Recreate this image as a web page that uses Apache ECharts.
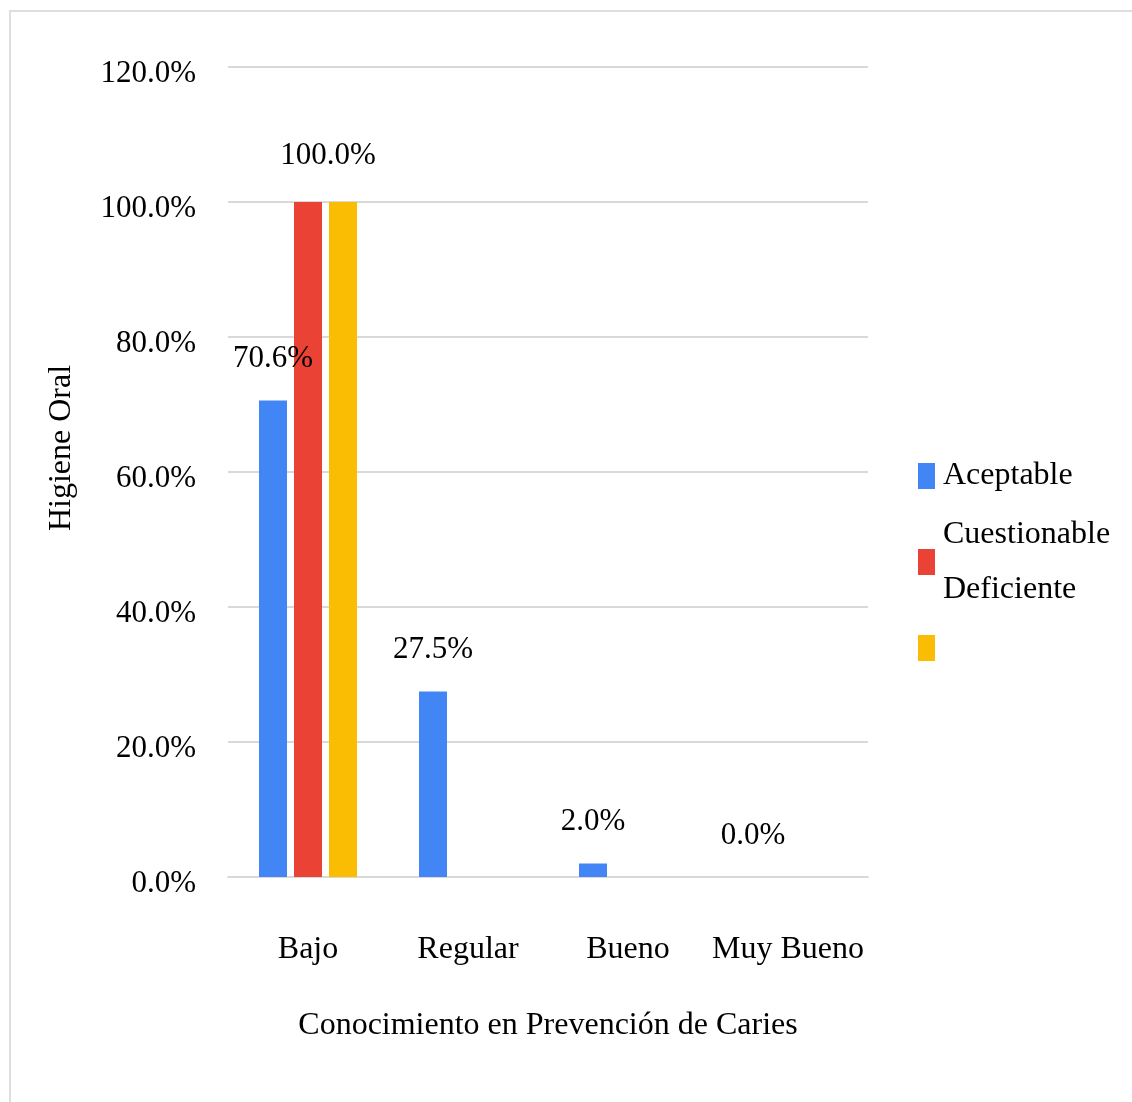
<!DOCTYPE html>
<html>
<head>
<meta charset="utf-8">
<script src="https://cdn.jsdelivr.net/npm/echarts@6/dist/echarts.min.js"></script>
<style>
html,body{margin:0;padding:0;background:#fff;}
#chart{width:1132px;height:1102px;}
</style>
</head>
<body>
<div id="chart"></div>
<script>
const categories = ['Bajo', 'Regular', 'Bueno', 'Muy Bueno'];
const seriesNames = ['Aceptable', 'Cuestionable', 'Deficiente'];
const aceptable = [70.6, 27.5, 2.0, 0.0];
const cuestionable = [100.0, 0, 0, 0];
const deficiente = [100.0, 0, 0, 0];
const yTicks = [0, 20, 40, 60, 80, 100, 120];
const colors = ['#4285f4', '#ea4335', '#fbbc04'];

const FONT = '"Liberation Serif", "Times New Roman", serif';
const fmt = v => v.toFixed(1) + '%';

const chart = echarts.init(document.getElementById('chart'), null, {renderer: 'canvas'});
const option = {
  animation: false,
  backgroundColor: '#fff',
  textStyle: {fontFamily: FONT, color: '#000'},
  grid: {left: 228, right: 264, top: 67, bottom: 225},
  xAxis: {
    type: 'category',
    data: categories,
    name: 'Conocimiento en Prevención de Caries',
    nameLocation: 'middle',
    nameGap: 133,
    nameTextStyle: {fontFamily: FONT, fontSize: 32, color: '#000'},
    axisLine: {lineStyle: {color: '#d9d9d9', width: 2}},
    axisTick: {show: false},
    axisLabel: {interval: 0, margin: 57, fontFamily: FONT, fontSize: 32, color: '#000'}
  },
  yAxis: {
    type: 'value',
    min: yTicks[0],
    max: yTicks[yTicks.length - 1],
    interval: 20,
    axisLine: {show: false},
    axisTick: {show: false},
    splitLine: {lineStyle: {color: '#d9d9d9', width: 2}},
    axisLabel: {margin: 32, verticalAlign: 'top', lineHeight: 14, fontFamily: FONT, fontSize: 31, color: '#000', formatter: v => fmt(v)}
  },
  legend: [
    {
      left: 918, top: 460, orient: 'vertical', padding: 0,
      data: ['Aceptable'],
      itemWidth: 17, itemHeight: 26, icon: 'rect',
      textStyle: {fontFamily: FONT, fontSize: 32, color: '#000', padding: [0, 0, 0, 3]},
      selectedMode: false
    },
    {
      left: 918, top: 507, orient: 'vertical', padding: 0,
      data: ['Cuestionable'],
      itemWidth: 17, itemHeight: 26, icon: 'rect',
      formatter: () => 'Cuestionable\nDeficiente',
      textStyle: {fontFamily: FONT, fontSize: 32, color: '#000', lineHeight: 55, padding: [0, 0, 0, 3]},
      selectedMode: false
    },
    {
      left: 918, top: 635, orient: 'vertical', padding: 0,
      data: ['Deficiente'],
      itemWidth: 17, itemHeight: 26, icon: 'rect',
      formatter: () => '',
      textStyle: {fontFamily: FONT, fontSize: 32, color: '#000'},
      selectedMode: false
    }
  ],
  graphic: [
    {
      type: 'rect', silent: true, z: -1,
      shape: {x: 10, y: 11, width: 1300, height: 1300},
      style: {fill: null, stroke: '#dedede', lineWidth: 2}
    },
    {
      type: 'text', x: 62, y: 448, rotation: Math.PI / 2,
      style: {text: 'Higiene Oral', font: '32px ' + FONT, fill: '#000', align: 'center', verticalAlign: 'middle'}
    }
  ],
  series: [
    {
      name: seriesNames[0], type: 'bar', data: aceptable,
      itemStyle: {color: colors[0]},
      barGap: '25%', barCategoryGap: '38.75%',
      label: {show: true, position: 'top', distance: 26, fontFamily: FONT, fontSize: 31, color: '#000',
              formatter: p => fmt(p.value)}
    },
    {
      name: seriesNames[1], type: 'bar', data: cuestionable,
      itemStyle: {color: colors[1]},
      barGap: '25%', barCategoryGap: '38.75%',
      label: {show: false}
    },
    {
      name: seriesNames[2], type: 'bar', data: deficiente,
      itemStyle: {color: colors[2]},
      barGap: '25%', barCategoryGap: '38.75%',
      label: {show: true, position: 'top', distance: 31, offset: [-15, 0], fontFamily: FONT, fontSize: 31, color: '#000',
              formatter: p => (p.dataIndex === 0 ? fmt(p.value) : '')}
    }
  ]
};
chart.setOption(option);
</script>
</body>
</html>
